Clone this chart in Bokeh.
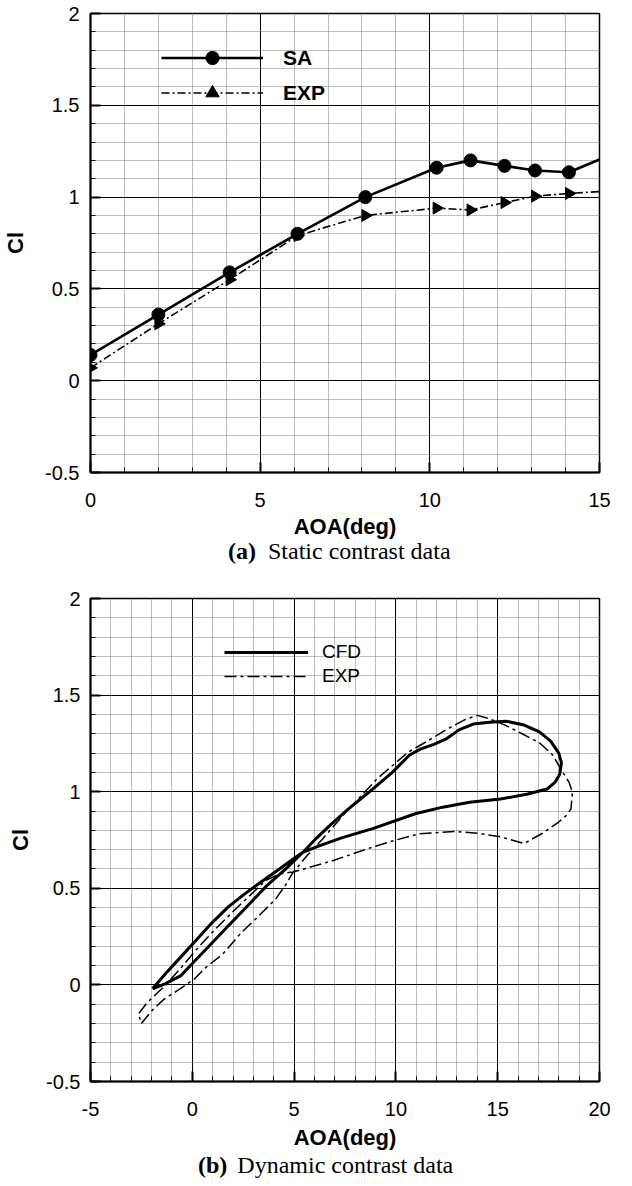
import math
from bokeh.plotting import figure
from bokeh.layouts import column
from bokeh.models import (Legend, LegendItem, SingleIntervalTicker,
                          CustomJSTickFormatter, Range1d, Div)
from bokeh.embed import file_html
from bokeh.resources import INLINE

# ---------------- data: (a) static ----------------
aoa_static = [0, 2, 4.1, 6.1, 8.1, 10.2, 11.2, 12.2, 13.1, 14.1]
cl_sa = [0.14, 0.36, 0.59, 0.80, 1.00, 1.16, 1.20, 1.17, 1.145, 1.135]
cl_exp_static = [0.07, 0.31, 0.55, 0.79, 0.90, 0.94, 0.93, 0.97, 1.005, 1.02]
aoa_tail = 15.0
cl_sa_tail = 1.205
cl_exp_tail = 1.03

# ---------------- data: (b) dynamic ----------------
cfd_aoa = [-1.95, -1.34, -0.56, 0.22, 1.0, 1.78, 2.56, 3.34, 4.28, 4.9, 5.45, 6.3,
           7.33, 8.86, 10.95, 12.3, 13.62, 15.14, 16.48, 17.43, 17.81, 18.05, 18.13,
           18.0, 17.6, 17.05, 16.3, 15.4, 14.6, 13.8, 13.1, 12.5, 11.86, 11.2, 10.67,
           9.81, 8.67, 7.6, 6.76, 6.1, 5.45, 4.59, 3.66, 2.72, 1.78, 0.84, 0.06, -0.56,
           -1.34, -1.95]
cfd_cl = [-0.02, 0.055, 0.145, 0.235, 0.325, 0.405, 0.47, 0.53, 0.60, 0.648, 0.688, 0.722,
          0.761, 0.809, 0.886, 0.92, 0.945, 0.962, 0.988, 1.014, 1.048, 1.09, 1.15,
          1.20, 1.262, 1.31, 1.345, 1.365, 1.36, 1.35, 1.32, 1.275, 1.245, 1.22, 1.19,
          1.099, 0.997, 0.905, 0.826, 0.76, 0.688, 0.60, 0.514, 0.41, 0.307, 0.203, 0.117,
          0.048, 0.005, -0.02]
exp_aoa = [-2.5, -2.0, -1.4, -0.6, 0.1, 0.6, 1.5, 2.4, 3.2, 4.1, 4.6, 4.9, 5.6, 6.4,
           7.53, 9.06, 10.58, 11.55, 12.64, 13.42, 14.0, 14.52, 15.33, 16.2, 17.05,
           17.7, 18.2, 18.5, 18.67, 18.6, 18.35, 18.0, 17.2, 16.3, 15.14, 14.0, 12.86,
           11.15, 10.0, 8.87, 6.96, 5.05, 4.3, 3.6, 2.2, 1.1, 0.3, -0.5, -1.3, -1.9,
           -2.2, -2.65, -2.5]
exp_cl = [-0.2, -0.135, -0.075, -0.02, 0.03, 0.085, 0.16, 0.27, 0.35, 0.445, 0.52, 0.575,
          0.665, 0.755, 0.893, 1.065, 1.203, 1.262, 1.331, 1.374, 1.395, 1.38, 1.346,
          1.30, 1.253, 1.19, 1.10, 1.05, 0.997, 0.911, 0.875, 0.843, 0.785, 0.732, 0.766,
          0.785, 0.794, 0.782, 0.75, 0.714, 0.645, 0.587, 0.575, 0.54, 0.40, 0.285, 0.195,
          0.095, 0.0, -0.06, -0.09, -0.15, -0.2]

x_label = "AOA(deg)"
y_label = "Cl"
caption_a = ("(a)", "Static contrast data")
caption_b = ("(b)", "Dynamic contrast data")

SANS = "Liberation Sans"
fmt = CustomJSTickFormatter(code="return String(Math.round(tick*10)/10);")


def style(p, x_interval, ylab_standoff, tick_standoff_y, xlab_standoff, tick_standoff_x):
    p.background_fill_color = "white"
    p.border_fill_color = "white"
    p.outline_line_color = "black"
    p.outline_line_width = 1.5
    xt = SingleIntervalTicker(interval=x_interval, num_minor_ticks=5)
    yt = SingleIntervalTicker(interval=0.5, num_minor_ticks=5)
    p.xaxis.ticker = xt
    p.yaxis.ticker = yt
    p.xgrid.ticker = xt
    p.ygrid.ticker = yt
    for g in (p.xgrid, p.ygrid):
        g.grid_line_color = "black"
        g.grid_line_width = 1
        g.minor_grid_line_color = "#7a7a7a"
        g.minor_grid_line_width = 1
        g.minor_grid_line_dash = "1 1"
    for ax in (p.xaxis, p.yaxis):
        ax.formatter = fmt
        ax.axis_line_color = "black"
        ax.axis_line_width = 2
        ax.major_tick_in = 10
        ax.major_tick_out = 0
        ax.minor_tick_in = 5
        ax.minor_tick_out = 0
        ax.major_tick_line_width = 2
        ax.major_tick_line_color = "black"
        ax.minor_tick_line_color = "black"
        ax.minor_tick_line_width = 1
        ax.major_label_text_font = SANS
        ax.major_label_text_font_size = "20px"
        ax.major_label_text_color = "black"
        ax.axis_label_text_font = SANS
        ax.axis_label_text_font_size = "22px"
        ax.axis_label_text_font_style = "bold"
        ax.axis_label_text_color = "black"
    p.xaxis.axis_label = x_label
    p.yaxis.axis_label = y_label
    p.yaxis.major_label_standoff = tick_standoff_y
    p.yaxis.axis_label_standoff = ylab_standoff
    p.xaxis.major_label_standoff = tick_standoff_x
    p.xaxis.axis_label_standoff = xlab_standoff


def caption_div(parts, pad_left, gap, pad_top, height, shift):
    html = ('<div style="padding:%dpx 0 0 %dpx; font-family:\'Liberation Serif\', serif; '
            'font-size:24px; line-height:24px; color:#000; white-space:nowrap;">'
            '<b>%s</b><span style="padding-left:%dpx">%s</span></div>'
            % (pad_top, pad_left, parts[0], gap, parts[1]))
    return Div(text=html, width=624, height=height, margin=(-shift, 0, 0, 0))


# ---------------- figure (a) ----------------
pa = figure(width=624, height=546, x_range=Range1d(0, 15), y_range=Range1d(-0.5, 2),
            output_backend="svg", toolbar_location=None,
            min_border_left=85, min_border_right=25, min_border_top=13, min_border_bottom=74)
style(pa, 5, 14, 11, 4, 20)

exp_l = pa.line(aoa_static + [aoa_tail], cl_exp_static + [cl_exp_tail],
                line_color="black", line_width=1.6, line_dash="8 3 2 3")
exp_s = pa.scatter(aoa_static, cl_exp_static, marker="triangle", size=12,
                   angle=-math.pi / 2, fill_color="black", line_color="black")
sa_l = pa.line(aoa_static + [aoa_tail], cl_sa + [cl_sa_tail],
               line_color="black", line_width=2.6)
sa_s = pa.scatter(aoa_static, cl_sa, marker="circle", size=13,
                  fill_color="black", line_color="black")

leg_a = Legend(items=[LegendItem(label="SA", renderers=[sa_l, sa_s]),
                      LegendItem(label="EXP", renderers=[exp_l, exp_s])],
               location=(71, 363), glyph_width=102, glyph_height=33, label_height=33,
               spacing=2, label_standoff=20, padding=0, margin=0,
               border_line_alpha=0, background_fill_alpha=0,
               label_text_font=SANS, label_text_font_size="21px",
               label_text_font_style="bold", label_text_color="black")
pa.add_layout(leg_a)

div_a = caption_div(caption_a, 228, 12, 5, 52, 12)

# ---------------- figure (b) ----------------
pb = figure(width=624, height=570, x_range=Range1d(-5, 20), y_range=Range1d(-0.5, 2),
            output_backend="svg", toolbar_location=None,
            min_border_left=81, min_border_right=14, min_border_top=12, min_border_bottom=75)
style(pb, 5, 10, 10, 6, 20)

cfd_r = pb.line(cfd_aoa, cfd_cl, line_color="black", line_width=3)
expd_r = pb.line(exp_aoa, exp_cl, line_color="black", line_width=1.5, line_dash="12 4 3 4")

leg_b = Legend(items=[LegendItem(label="CFD", renderers=[cfd_r]),
                      LegendItem(label="EXP", renderers=[expd_r])],
               location=(134, 394), glyph_width=84, glyph_height=20, label_height=20,
               spacing=2, label_standoff=14, padding=0, margin=0,
               border_line_alpha=0, background_fill_alpha=0,
               label_text_font=SANS, label_text_font_size="19px", label_text_color="black")
pb.add_layout(leg_b)

div_b = caption_div(caption_b, 198, 10, 5, 30, 8)

layout = column(pa, div_a, pb, div_b, spacing=0, styles={"margin-bottom": "-8px"})
open("out.html", "w").write(file_html(layout, INLINE))
